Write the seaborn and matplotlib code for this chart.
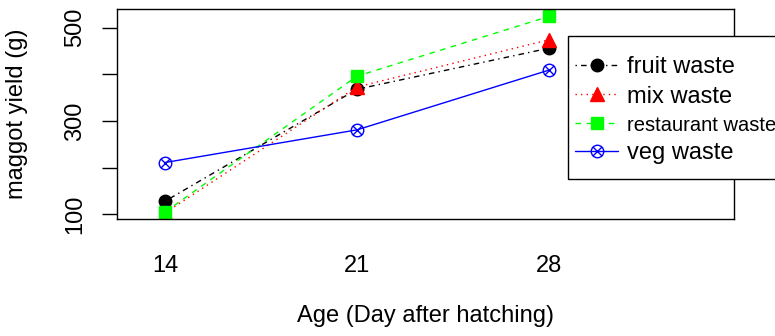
import numpy as np
import pandas as pd
import matplotlib
matplotlib.use("Agg")
import matplotlib.pyplot as plt
from matplotlib.path import Path
from matplotlib.patches import Rectangle
import seaborn as sns

# values
days = [14, 21, 28]
fruit_waste = [128, 368, 456]
mix_waste = [103, 373, 474]
restaurant_waste = [105, 396, 524]
veg_waste = [211, 281, 409]
series_names = ["fruit waste", "mix waste", "restaurant waste", "veg waste"]
y_ticks = [100, 200, 300, 400, 500]
y_tick_labels = ["100", "", "300", "", "500"]

# long form table for seaborn
df = pd.DataFrame({
    "age": days * 4,
    "yield": fruit_waste + mix_waste + restaurant_waste + veg_waste,
    "waste": [n for n in series_names for _ in days],
})

sns.set_style("ticks")
plt.rcParams["font.family"] = ["Liberation Sans", "DejaVu Sans"]
plt.rcParams.update({"text.color": "black", "axes.labelcolor": "black",
                     "xtick.color": "black", "ytick.color": "black"})

# circle with an x inside (R pch 13)
r = np.sqrt(0.5)
cross = Path([(-r, -r), (r, r), (-r, r), (r, -r)],
             [Path.MOVETO, Path.LINETO, Path.MOVETO, Path.LINETO])
circle_x = Path.make_compound_path(Path.unit_circle(), cross)

styles = {
    "fruit waste": dict(color="black", marker="o", linestyle=(0, (1, 3, 4, 3)), ms=9, mfc="black"),
    "mix waste": dict(color="#ff0000", marker="^", linestyle=(0, (1, 3)), ms=9.5, mfc="#ff0000"),
    "restaurant waste": dict(color="#00ff00", marker="s", linestyle=(0, (4, 4)), ms=8, mfc="#00ff00"),
    "veg waste": dict(color="#0000ff", marker=circle_x, linestyle="-", ms=9, mfc="none"),
}

fig = plt.figure(figsize=(7.75, 3.36), dpi=100)
ax = fig.add_axes([117 / 775, (336 - 219) / 336, (734 - 117) / 775, (219 - 9) / 336])

for name in series_names:
    st = styles[name]
    sub = df[df["waste"] == name]
    sns.lineplot(data=sub, x="age", y="yield", ax=ax, label=name,
                 color=st["color"], marker=st["marker"], linestyle=st["linestyle"],
                 markersize=st["ms"], markerfacecolor=st["mfc"],
                 markeredgecolor=st["color"], markeredgewidth=1.0, linewidth=1.0)

ax.set_xlim(12.25, 34.75)
ax.set_ylim(90, 540)
ax.set_xticks(days)
ax.set_xticklabels([str(d) for d in days])
ax.set_yticks(y_ticks)
ax.set_yticklabels(y_tick_labels, rotation=90, va="center")
ax.tick_params(axis="x", length=0, pad=26, labelsize=17)
ax.tick_params(axis="y", length=11, width=1, pad=11, labelsize=17)
for sp in ax.spines.values():
    sp.set_visible(True)
    sp.set_color("black")
    sp.set_linewidth(1.0)

ax.set_xlabel("Age (Day after hatching)", fontsize=17)
ax.set_ylabel("maggot yield (g)", fontsize=17)
ax.xaxis.set_label_coords(0.5, -0.41)
ax.yaxis.set_label_coords(-0.144, 0.5)

# legend entries without frame; the white box is drawn separately and runs past the edge
leg = ax.legend(loc="upper left", bbox_to_anchor=(566 / 775, 1 - 47 / 336),
                bbox_transform=fig.transFigure, frameon=False, fontsize=17,
                handlelength=1.8, handletextpad=0.4, labelspacing=0.3,
                borderpad=0.4, borderaxespad=0)
leg.get_texts()[2].set_fontsize(14.5)
leg.set_zorder(6)
box = Rectangle((568 / 775, 1 - 179 / 336), 0.4, (179 - 36) / 336,
                transform=fig.transFigure, facecolor="white", edgecolor="black",
                lw=1.0, clip_on=False, zorder=4)
ax.add_artist(box)

fig.savefig("out.png", dpi=100)
